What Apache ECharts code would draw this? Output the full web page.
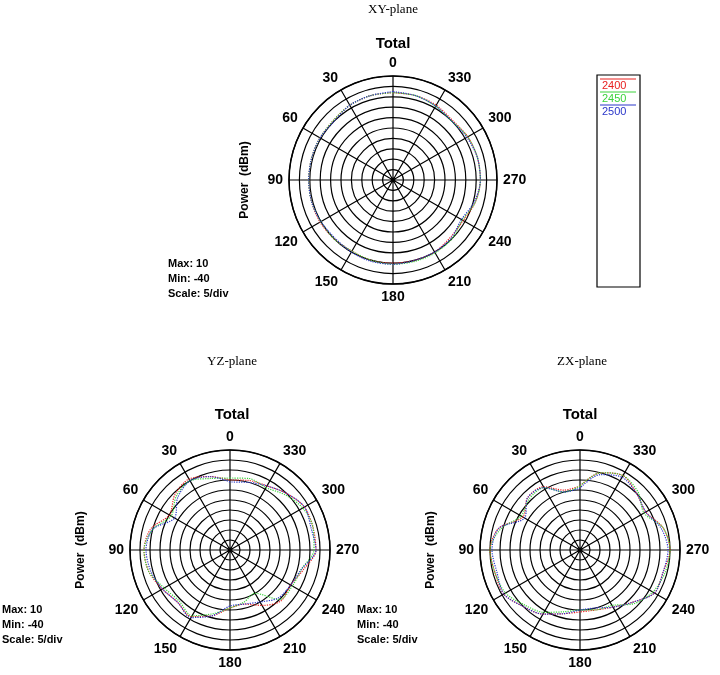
<!DOCTYPE html>
<html>
<head>
<meta charset="utf-8">
<script src="https://cdn.jsdelivr.net/npm/echarts@6/dist/echarts.min.js"></script>
<style>html,body{margin:0;padding:0;background:#fff}#main{width:720px;height:675px}</style>
</head>
<body>
<div id="main"></div>
<script type="text/javascript">
  // angles every 15 degrees, gain in dBm
  var angles = [0,15,30,45,60,75,90,105,120,135,150,165,180,195,210,225,240,255,270,285,300,315,330,345,360];
  var xy2400 = [2,2,1.5,0.5,0.5,0.5,0.5,0.5,0.5,0,-0.5,0,0,0,0,-1,-1,1,2,2,1.5,0.5,1.5,2,2];
  var xy2450 = [2,2,1.5,0.5,0.5,0.5,0.5,0.5,0,0,-0.5,0,0.5,0.5,0.5,0,-1.5,1,2,2,1.5,0,1,2,2];
  var xy2500 = [2.5,2,1.5,0,0.5,0.5,0.5,0.5,0,-0.5,0,0.5,0.5,0,0,-0.5,-2,0.5,2,2,1,0,1,2,2.5];
  var yz2400 = [-5,-2,1,-1,-5,1,3,2,-1,-3,-1.5,-6,-11,-12,-8,-4,-5,-2,3,3,3,0,-3,-4,-5];
  var yz2450 = [-4,-3,0,-2,-6,0,3,2,-2,-4,-2,-7,-11,-13,-15,-5,-4,-3,2,3,2,-1,-4,-3,-4];
  var yz2500 = [-6,-2,0,-3,-8,0,2,1,-1,-3,-1,-6,-12,-12,-10,-6,-5,-3,3,2,3,0,-3,-5,-6];
  var zx2400 = [-8,-9,-3.5,-3,-7,2,5,4,4,0,-3,-7,-9,-9,-7,-3,3,3,5,3,-2,0,3,0,-8];
  var zx2450 = [-8,-10,-4,-4,-6,1,5,4,3,-1,-4,-8,-10,-9,-8,-2,2,4,5,3,-3,1,3,0,-8];
  var zx2500 = [-9,-10,-4,-3,-8,2,4,3,4,0,-3,-7,-10,-10,-7,-3,3,3,4,2,-2,0,2,-1,-9];
  var freqs = ['2400', '2450', '2500'];
  var colors = ['#e8201f', '#3ad33a', '#2a36c9'];

  var myChart = echarts.init(document.getElementById('main'));

  function pairs(vals) {
    return vals.map(function (v, i) { return [v, angles[i]]; });
  }

  var polarDefs = [
    { center: [393, 180], radius: 104, data: [xy2400, xy2450, xy2500] },
    { center: [230, 550], radius: 100, data: [yz2400, yz2450, yz2500] },
    { center: [580, 550], radius: 100, data: [zx2400, zx2450, zx2500] },
  ];

  var polar = [], angleAxis = [], radiusAxis = [], series = [];
  polarDefs.forEach(function (p, k) {
    polar.push({ center: p.center, radius: p.radius });
    angleAxis.push({
      polarIndex: k, type: 'value', min: 0, max: 360, interval: 30,
      startAngle: 90, clockwise: false,
      axisLine: { lineStyle: { color: '#000', width: 1.5 } },
      axisTick: { show: false },
      axisLabel: { color: '#000', fontWeight: 'bold', fontSize: 14, fontFamily: 'Liberation Sans', margin: 6,
        formatter: function (v) { return v === 360 ? '' : v; } },
      splitLine: { show: true, lineStyle: { color: '#000', width: 1.2 } },
    });
    radiusAxis.push({
      polarIndex: k, type: 'value', min: -40, max: 10, interval: 5,
      axisLine: { show: false }, axisTick: { show: false }, axisLabel: { show: false },
      splitLine: { show: true, lineStyle: { color: '#000', width: 1.2 } },
    });
    p.data.forEach(function (vals, i) {
      series.push({
        type: 'line', coordinateSystem: 'polar', polarIndex: k, name: freqs[i],
        data: pairs(vals), smooth: 0.3, symbol: 'none',
        lineStyle: { color: colors[i], width: 1.2, type: 'dotted' },
      });
    });
  });

  var bold = { fill: '#000', fontWeight: 'bold', fontFamily: 'Liberation Sans' };
  var graphic = [];
  [['XY-plane', 393, 10], ['YZ-plane', 232, 362], ['ZX-plane', 582, 362]].forEach(function (t) {
    graphic.push({ type: 'text', x: t[1], y: t[2], style: { text: t[0], fill: '#000', font: '13px "Liberation Serif"', align: 'center', verticalAlign: 'middle' } });
  });
  [[393, 44], [232, 415], [580, 415]].forEach(function (c) {
    graphic.push({ type: 'text', x: c[0], y: c[1], style: Object.assign({ text: 'Total', fontSize: 15, align: 'center', verticalAlign: 'middle' }, bold) });
  });
  [[245, 180], [81, 550], [431, 550]].forEach(function (c) {
    graphic.push({ type: 'text', x: c[0], y: c[1], rotation: Math.PI / 2, style: Object.assign({ text: 'Power  (dBm)', fontSize: 12, align: 'center', verticalAlign: 'middle' }, bold) });
  });
  [[168, 256], [2, 602], [357, 602]].forEach(function (c) {
    graphic.push({ type: 'text', x: c[0], y: c[1], style: Object.assign({ text: 'Max: 10\nMin: -40\nScale: 5/div', fontSize: 11, lineHeight: 15 }, bold) });
  });
  graphic.push({ type: 'rect', shape: { x: 597, y: 75, width: 43, height: 212 }, style: { fill: '#fff', stroke: '#000', lineWidth: 1.2 } });
  freqs.forEach(function (f, i) {
    graphic.push({ type: 'line', shape: { x1: 600, y1: 79 + i * 13, x2: 636, y2: 79 + i * 13 }, style: { stroke: colors[i], lineWidth: 1 } });
    graphic.push({ type: 'text', x: 602, y: 80 + i * 13, style: { text: f, fill: colors[i], font: '11px "Liberation Sans"' } });
  });

  var option = {
    animation: false,
    polar: polar, angleAxis: angleAxis, radiusAxis: radiusAxis,
    series: series, graphic: graphic,
  };
  myChart.setOption(option);
</script>
</body>
</html>
